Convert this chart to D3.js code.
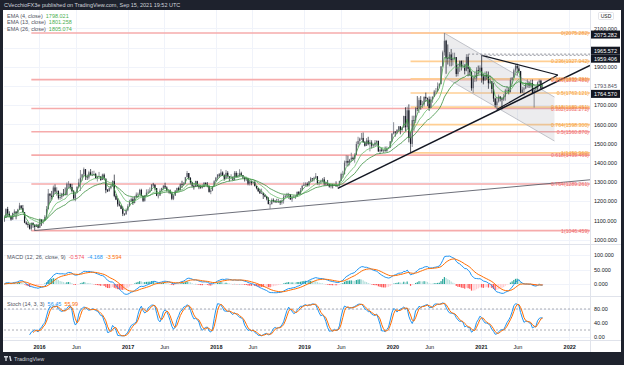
<!DOCTYPE html>
<html>
<head>
<meta charset="utf-8">
<script src="https://cdn.jsdelivr.net/npm/d3@7"></script>
<style>
  body { margin: 0; background: #1e222d; }
  svg { display: block; font-family: "Liberation Sans", Arial, sans-serif; }
</style>
</head>
<body>
<svg id="chart" width="624" height="365"></svg>
<script>
// weekly XAU/USD bars, one per week starting Monday 2015-08-10 (open = previous close)
var firstWeek = '2015-08-10';
var firstOpen = 1094;
var closes = [
  1113,1159,1134,1121,1104,1138,1146,1137,1156,1177,1163,1142,1088,1081,1076,1056,1087,1075,1065,1076,1061,
  1104,1090,1097,1118,1158,1239,1228,1222,1271,1250,1254,1216,1221,1239,1235,1231,1290,1290,1273,1252,1214,1242,1275,1297,1322,1339,1366,1327,1323,1350,1336,1336,1341,1320,1326,1328,1310,1338,1316,1257,1251,1267,1277,1304,1227,1208,1183,1177,1160,1134,1132,1152,
  1173,1197,1210,1190,1220,1234,1238,1258,1227,1202,1229,1244,1249,1254,1286,1284,1268,1228,1228,1254,1268,1280,1271,1254,1256,1241,1212,1228,1254,1268,1258,1289,1285,1291,1324,1346,1320,1297,1280,1274,1304,1280,1272,1270,1274,1295,1287,1280,1248,1255,1278,1303,
  1322,1338,1333,1349,1333,1316,1347,1330,1322,1323,1312,1347,1325,1332,1345,1335,1323,1314,1319,1291,1302,1294,1298,1279,1268,1252,1241,1241,1231,1223,1214,1184,1184,1206,1200,1196,1194,1199,1192,1203,1222,1228,1233,1233,1209,1222,1222,1222,1248,1238,1256,1279,1286,
  1290,1282,1303,1318,1315,1322,1329,1294,1298,1302,1313,1292,1291,1290,1276,1286,1280,1286,1277,1283,1305,1341,1341,1400,1409,1400,1416,1426,1419,1440,1497,1513,1526,1529,1506,1488,1516,1497,1505,1489,1490,1505,1514,1459,1468,1462,1464,1460,1476,1478,1511,1552,
  1562,1557,1571,1589,1570,1584,1643,1585,1673,1530,1498,1622,1620,1684,1683,1726,1700,1703,1743,1735,1730,1685,1730,1744,1771,1774,1798,1810,1902,1975,2035,1944,1940,1964,1934,1940,1950,1862,1900,1930,1899,1902,1879,1951,1889,1871,1788,1839,1839,1882,1878,1895,
  1850,1828,1856,1848,1814,1824,1784,1734,1700,1719,1745,1733,1729,1744,1777,1777,1768,1831,1843,1881,1904,1891,1877,1764,1781,1787,1808,1812,1802,1814,1763,1780,1781,1818,1827,1787,1794
];
var highs = [
  1126,1162,1170,1147,1126,1140,1157,1145,1160,1191,1178,1180,1142,1095,1090,1080,1088,1088,1080,1081,1082,
  1110,1100,1103,1127,1174,1263,1240,1253,1281,1287,1272,1254,1244,1243,1263,1271,1297,1304,1286,1290,1258,1245,1276,1316,1362,1342,1375,1367,1338,1358,1367,1357,1358,1347,1331,1352,1330,1343,1344,1319,1263,1272,1284,1308,1338,1236,1216,1199,1180,1172,1136,1162,
  1184,1207,1219,1220,1227,1245,1245,1264,1264,1228,1232,1261,1262,1271,1289,1295,1289,1266,1236,1265,1270,1283,1296,1277,1260,1261,1242,1234,1258,1270,1275,1293,1306,1299,1326,1357,1340,1325,1300,1283,1306,1306,1284,1284,1287,1299,1298,1299,1280,1261,1279,1309,
  1326,1340,1345,1366,1355,1339,1362,1356,1326,1340,1329,1356,1356,1347,1366,1353,1336,1327,1326,1320,1308,1308,1302,1309,1279,1269,1264,1265,1245,1235,1226,1221,1196,1214,1214,1206,1212,1212,1205,1207,1233,1233,1243,1243,1237,1226,1230,1230,1250,1252,1268,1284,1298,
  1298,1298,1305,1326,1320,1327,1346,1330,1299,1311,1320,1325,1301,1310,1290,1289,1290,1289,1303,1287,1306,1348,1358,1411,1439,1437,1420,1452,1433,1449,1510,1535,1531,1555,1557,1513,1528,1535,1519,1517,1499,1518,1516,1514,1474,1478,1466,1484,1485,1481,1513,1553,
  1611,1563,1575,1591,1591,1585,1645,1689,1692,1704,1560,1645,1645,1690,1747,1739,1747,1722,1745,1765,1739,1745,1744,1745,1779,1789,1818,1815,1902,1984,2075,2040,2016,1976,1992,1973,1973,1912,1917,1933,1933,1933,1913,1965,1965,1898,1876,1848,1875,1897,1906,1907,
  1959,1864,1875,1876,1875,1855,1822,1816,1739,1740,1755,1745,1741,1758,1785,1798,1790,1843,1846,1890,1913,1916,1903,1878,1795,1795,1818,1834,1824,1832,1833,1783,1795,1823,1834,1832,1809
];
var lows = [
  1091,1113,1118,1116,1098,1103,1121,1105,1131,1154,1158,1141,1085,1075,1062,1052,1046,1061,1046,1065,1058,
  1062,1071,1080,1096,1110,1157,1190,1208,1224,1238,1228,1208,1207,1211,1225,1231,1236,1266,1261,1244,1208,1199,1241,1269,1253,1306,1331,1310,1310,1313,1333,1330,1332,1318,1302,1322,1306,1310,1310,1241,1247,1250,1261,1275,1220,1205,1171,1172,1158,1122,1124,1128,
  1147,1173,1196,1180,1188,1216,1216,1232,1225,1195,1197,1226,1238,1243,1254,1275,1255,1226,1214,1228,1247,1258,1266,1250,1240,1236,1205,1205,1230,1246,1253,1255,1268,1281,1290,1325,1311,1287,1272,1260,1275,1276,1262,1264,1265,1272,1281,1272,1244,1236,1252,1276,
  1302,1308,1322,1329,1331,1307,1316,1322,1303,1313,1307,1307,1322,1323,1325,1331,1316,1302,1304,1282,1281,1282,1289,1276,1261,1247,1237,1237,1211,1220,1204,1185,1160,1183,1193,1190,1194,1190,1180,1182,1187,1217,1222,1211,1206,1196,1215,1211,1228,1233,1236,1256,1279,
  1278,1276,1276,1300,1302,1302,1320,1286,1281,1290,1300,1280,1281,1281,1270,1266,1266,1279,1275,1273,1275,1305,1322,1338,1382,1381,1386,1403,1412,1400,1440,1480,1492,1518,1506,1484,1491,1491,1459,1474,1478,1484,1488,1456,1445,1456,1451,1458,1457,1471,1476,1507,
  1547,1536,1549,1560,1548,1562,1581,1563,1576,1506,1451,1482,1566,1606,1669,1659,1676,1685,1693,1716,1694,1670,1703,1712,1742,1757,1767,1792,1807,1898,1958,1863,1911,1902,1902,1906,1937,1848,1850,1873,1880,1892,1860,1876,1850,1853,1775,1764,1820,1823,1859,1863,
  1817,1808,1828,1832,1785,1809,1761,1717,1687,1677,1713,1719,1677,1721,1723,1763,1756,1766,1808,1843,1869,1855,1866,1761,1767,1750,1783,1791,1789,1791,1757,1687,1772,1776,1805,1782,1785
];

// time axis
var timeTicks = ['2016-01-01','2016-06-01','2017-01-01','2017-06-01','2018-01-01','2018-06-01','2019-01-01',
  '2019-06-01','2020-01-01','2020-06-01','2021-01-01','2021-06-01','2022-01-01'];
var priceTicks = [1000,1100,1200,1300,1400,1500,1600,1700,1900,2100];
var macdTicks = [0,50,100];
var stochTicks = [0,40,80];

// fibonacci retracements (the red 0 level shares its label with the orange one)
var fibRatios = [0,0.236,0.382,0.5,0.618,0.764,1];
var fibRedFrom = '2015-11-30', fibRedHigh = 2075.282, fibRedLow = 1046.459;
var fibOrgFrom = '2020-03-16', fibOrgHigh = 2075.282, fibOrgLow = 1450.96;

// drawings
var supportLong = [['2015-12-14',1046.5],['2019-11-11',1211]];
var supportUp = [['2019-05-20',1266],['2020-03-16',1451]];
var triUpper = [['2021-01-04',1959.4],['2021-11-15',1857]];
var triLower = [['2021-03-08',1677],['2021-11-15',1857]];
var channelDates = ['2020-08-03','2021-11-01'];
var channelTop = [2075,1742];
var channelBottom = [1846,1513];
var dashFrom = ['2020-11-09','2021-01-04'];
var dashPrice = [1965.572,1959.406];

// axis price labels
var boxPrices = [2075.282,1965.572,1959.406,1793.845,1764.570];
var boxDark = [true,true,true,false,true];

// legend texts
var emaLengths = [4,13,26];
var emaLegend = ['1798.021','1801.258','1805.074'];
var emaColors = ['#43a047','#66bb6a','#388e3c'];
var macdLegend = ['-0.574','-4.168','-3.594'];
var stochLegend = ['56.45','55.99'];

var W = 624, H = 365;
var plotL = 4, plotR = 590;
var mainTop = 10, mainBot = 244, macdTop = 245, macdBot = 296, stoTop = 297, stoBot = 340, axisBot = 352;

var parse = d3.utcParse('%Y-%m-%d');
var svg = d3.select('#chart');

var x = d3.scaleUtc().domain([parse('2015-08-09'), parse('2022-03-28')]).range([plotL, plotR]);
var y = d3.scaleLinear().domain([1000, 2100]).range([239.5, 28.3]);
var yM = d3.scaleLinear().domain([0, 100]).range([284, 255]);
var yS = d3.scaleLinear().domain([0, 80]).range([337, 309]);

// ---- indicators
function ema( _arr, _n ) {
	var k = 2 / ( _n + 1 ), out = [], prev = null;
	_arr.forEach( function( _v, _i ) {
		prev = _i === 0 ? _v : _v * k + prev * ( 1 - k );
		out.push( prev );
	} );
	return out;
}
function sma( _arr, _n ) {
	return _arr.map( function( _v, _i ) {
		if ( _i < _n - 1 ) return null;
		var s = 0;
		for ( var j = _i - _n + 1; j <= _i; j++ ) {
			if ( _arr[ j ] == null ) return null;
			s += _arr[ j ];
		}
		return s / _n;
	} );
}

var t0 = parse( firstWeek );
var bars = closes.map( function( _c, _i ) {
	return { t: d3.utcDay.offset( t0, 7 * _i ), o: _i ? closes[ _i - 1 ] : firstOpen, h: highs[ _i ], l: lows[ _i ], c: _c };
} );

var emas = emaLengths.map( function( _n ) { return ema( closes, _n ); } );
var e12 = ema( closes, 12 ), e26 = ema( closes, 26 );
var macd = e12.map( function( _v, _i ) { return _v - e26[ _i ]; } );
var signal = ema( macd, 9 );
var hist = macd.map( function( _v, _i ) { return _v - signal[ _i ]; } );

var rawK = closes.map( function( _c, _i ) {
	if ( _i < 13 ) return null;
	var hh = d3.max( highs.slice( _i - 13, _i + 1 ) ), ll = d3.min( lows.slice( _i - 13, _i + 1 ) );
	return 100 * ( _c - ll ) / ( hh - ll );
} );
var stK = sma( rawK, 3 );
var stD = sma( stK, 3 );

// ---- frame
svg.append( 'rect' ).attr( 'width', W ).attr( 'height', H ).attr( 'fill', '#1e222d' );
svg.append( 'rect' ).attr( 'x', 3 ).attr( 'y', 10 ).attr( 'width', 618 ).attr( 'height', axisBot - 10 ).attr( 'fill', '#ffffff' );

var defs = svg.append( 'defs' );
function clip( _id, _y0, _y1 ) {
	defs.append( 'clipPath' ).attr( 'id', _id ).append( 'rect' )
		.attr( 'x', plotL ).attr( 'y', _y0 ).attr( 'width', plotR - plotL ).attr( 'height', _y1 - _y0 );
}
clip( 'cMain', mainTop, mainBot );
clip( 'cMacd', macdTop, macdBot );
clip( 'cSto', stoTop, stoBot );

// grid
var grid = svg.append( 'g' ).attr( 'stroke', '#f0f3fa' ).attr( 'stroke-width', 1 );
timeTicks.forEach( function( _d ) {
	var xx = Math.round( x( parse( _d ) ) ) + 0.5;
	grid.append( 'line' ).attr( 'x1', xx ).attr( 'x2', xx ).attr( 'y1', mainTop ).attr( 'y2', stoBot );
} );
priceTicks.concat( [ 1800, 2000 ] ).forEach( function( _p ) {
	var yy = Math.round( y( _p ) ) + 0.5;
	grid.append( 'line' ).attr( 'x1', plotL ).attr( 'x2', plotR ).attr( 'y1', yy ).attr( 'y2', yy );
} );
macdTicks.forEach( function( _v ) {
	var yy = Math.round( yM( _v ) ) + 0.5;
	grid.append( 'line' ).attr( 'x1', plotL ).attr( 'x2', plotR ).attr( 'y1', yy ).attr( 'y2', yy );
} );
stochTicks.forEach( function( _v ) {
	var yy = Math.round( yS( _v ) ) + 0.5;
	grid.append( 'line' ).attr( 'x1', plotL ).attr( 'x2', plotR ).attr( 'y1', yy ).attr( 'y2', yy );
} );

// ---- main panel
var main = svg.append( 'g' ).attr( 'clip-path', 'url(#cMain)' );

// fib lines
function fibLines( _from, _hi, _lo, _color ) {
	fibRatios.forEach( function( _r ) {
		var p = _hi - _r * ( _hi - _lo );
		main.append( 'line' )
			.attr( 'x1', x( parse( _from ) ) ).attr( 'x2', plotR )
			.attr( 'y1', y( p ) ).attr( 'y2', y( p ) )
			.attr( 'stroke', _color ).attr( 'stroke-width', 1.6 );
	} );
}
fibLines( fibRedFrom, fibRedHigh, fibRedLow, '#f6abab' );
fibLines( fibOrgFrom, fibOrgHigh, fibOrgLow, '#ffcf94' );

// descending channel
var chPts = [
	[ x( parse( channelDates[ 0 ] ) ), y( channelTop[ 0 ] ) ],
	[ x( parse( channelDates[ 1 ] ) ), y( channelTop[ 1 ] ) ],
	[ x( parse( channelDates[ 1 ] ) ), y( channelBottom[ 1 ] ) ],
	[ x( parse( channelDates[ 0 ] ) ), y( channelBottom[ 0 ] ) ]
];
main.append( 'path' ).attr( 'd', d3.line()( chPts ) + 'Z' )
	.attr( 'fill', 'rgba(149,152,161,0.18)' ).attr( 'stroke', 'none' );
[ [ chPts[ 0 ], chPts[ 1 ] ], [ chPts[ 3 ], chPts[ 2 ] ] ].forEach( function( _seg ) {
	main.append( 'line' ).attr( 'x1', _seg[ 0 ][ 0 ] ).attr( 'y1', _seg[ 0 ][ 1 ] )
		.attr( 'x2', _seg[ 1 ][ 0 ] ).attr( 'y2', _seg[ 1 ][ 1 ] )
		.attr( 'stroke', '#b2b5be' ).attr( 'stroke-width', 0.8 );
} );

// candles
var candles = main.append( 'g' );
bars.forEach( function( _b ) {
	var xx = x( _b.t );
	var up = _b.c >= _b.o;
	var col = up ? '#5d606b' : '#131722';
	var hi = Math.max( _b.h, _b.o, _b.c ), lo = Math.min( _b.l, _b.o, _b.c );
	candles.append( 'line' ).attr( 'x1', xx ).attr( 'x2', xx ).attr( 'y1', y( hi ) ).attr( 'y2', y( lo ) )
		.attr( 'stroke', col ).attr( 'stroke-width', 0.7 );
	var top = y( Math.max( _b.o, _b.c ) ), bot = y( Math.min( _b.o, _b.c ) );
	candles.append( 'rect' ).attr( 'x', xx - 0.6 ).attr( 'width', 1.2 )
		.attr( 'y', top ).attr( 'height', Math.max( 0.6, bot - top ) ).attr( 'fill', col );
} );

// EMAs
emas.forEach( function( _e, _k ) {
	main.append( 'path' )
		.attr( 'd', d3.line().x( function( _v, _i ) { return x( bars[ _i ].t ); } ).y( function( _v ) { return y( _v ); } )( _e ) )
		.attr( 'fill', 'none' ).attr( 'stroke', emaColors[ _k ] ).attr( 'stroke-width', 0.8 );
} );

// trend lines
function seg( _a, _b, _w, _col, _extend ) {
	var x1 = x( parse( _a[ 0 ] ) ), y1 = y( _a[ 1 ] ), x2 = x( parse( _b[ 0 ] ) ), y2 = y( _b[ 1 ] );
	if ( _extend ) {
		y2 = y1 + ( y2 - y1 ) * ( plotR - x1 ) / ( x2 - x1 );
		x2 = plotR;
	}
	main.append( 'line' ).attr( 'x1', x1 ).attr( 'y1', y1 ).attr( 'x2', x2 ).attr( 'y2', y2 )
		.attr( 'stroke', _col ).attr( 'stroke-width', _w );
}
seg( supportLong[ 0 ], supportLong[ 1 ], 0.9, '#5d606b', true );
seg( supportUp[ 0 ], supportUp[ 1 ], 1.4, '#131722', true );
seg( triUpper[ 0 ], triUpper[ 1 ], 1.2, '#131722', false );
seg( triLower[ 0 ], triLower[ 1 ], 1.2, '#131722', false );

dashFrom.forEach( function( _d, _i ) {
	main.append( 'line' ).attr( 'x1', x( parse( _d ) ) ).attr( 'x2', plotR )
		.attr( 'y1', y( dashPrice[ _i ] ) ).attr( 'y2', y( dashPrice[ _i ] ) )
		.attr( 'stroke', '#787b86' ).attr( 'stroke-width', 0.8 ).attr( 'stroke-dasharray', '2,2' );
} );

// fib labels, right-aligned on their line
function fibLabels( _hi, _lo, _color, _skipZero ) {
	fibRatios.forEach( function( _r ) {
		if ( _skipZero && _r === 0 ) return;
		var p = _hi - _r * ( _hi - _lo );
		svg.append( 'text' ).attr( 'x', plotR - 1 ).attr( 'y', y( p ) + 2 )
			.attr( 'text-anchor', 'end' ).attr( 'font-size', 5.2 ).attr( 'fill', _color )
			.text( _r + '(' + p.toFixed( 3 ) + ')' );
	} );
}
fibLabels( fibRedHigh, fibRedLow, '#ef6b6b', true );
fibLabels( fibOrgHigh, fibOrgLow, '#f5a03a', false );

// ---- MACD panel
var mg = svg.append( 'g' ).attr( 'clip-path', 'url(#cMacd)' );
hist.forEach( function( _h, _i ) {
	var prev = _i ? hist[ _i - 1 ] : 0;
	var col = _h >= 0 ? ( _h > prev ? '#26a69a' : '#b2dfdb' ) : ( _h < prev ? '#ff5252' : '#ffcdd2' );
	var y0 = yM( 0 ), y1 = yM( _h );
	mg.append( 'rect' ).attr( 'x', x( bars[ _i ].t ) - 0.6 ).attr( 'width', 1.2 )
		.attr( 'y', Math.min( y0, y1 ) ).attr( 'height', Math.max( 0.3, Math.abs( y1 - y0 ) ) ).attr( 'fill', col );
} );
var lineM = d3.line().x( function( _v, _i ) { return x( bars[ _i ].t ); } ).y( function( _v ) { return yM( _v ); } );
mg.append( 'path' ).attr( 'd', lineM( macd ) ).attr( 'fill', 'none' ).attr( 'stroke', '#2196f3' ).attr( 'stroke-width', 1 );
mg.append( 'path' ).attr( 'd', lineM( signal ) ).attr( 'fill', 'none' ).attr( 'stroke', '#ff6d00' ).attr( 'stroke-width', 1 );

// ---- Stochastic panel
var sg = svg.append( 'g' ).attr( 'clip-path', 'url(#cSto)' );
[ 80, 20 ].forEach( function( _v ) {
	sg.append( 'line' ).attr( 'x1', plotL ).attr( 'x2', plotR ).attr( 'y1', yS( _v ) ).attr( 'y2', yS( _v ) )
		.attr( 'stroke', '#9598a1' ).attr( 'stroke-width', 0.8 ).attr( 'stroke-dasharray', '2,2' );
} );
var lineS = d3.line().defined( function( _v ) { return _v != null; } )
	.x( function( _v, _i ) { return x( bars[ _i ].t ); } ).y( function( _v ) { return yS( _v ); } );
sg.append( 'path' ).attr( 'd', lineS( stK ) ).attr( 'fill', 'none' ).attr( 'stroke', '#2196f3' ).attr( 'stroke-width', 1 );
sg.append( 'path' ).attr( 'd', lineS( stD ) ).attr( 'fill', 'none' ).attr( 'stroke', '#ff6d00' ).attr( 'stroke-width', 1 );

// ---- separators
var sep = svg.append( 'g' ).attr( 'stroke', '#e0e3eb' ).attr( 'stroke-width', 1 );
[ 244.5, 296.5, 340.5 ].forEach( function( _y ) {
	sep.append( 'line' ).attr( 'x1', 3 ).attr( 'x2', 621 ).attr( 'y1', _y ).attr( 'y2', _y );
} );
sep.append( 'line' ).attr( 'x1', plotR + 0.5 ).attr( 'x2', plotR + 0.5 ).attr( 'y1', 10 ).attr( 'y2', axisBot );

// ---- axes
function styleAxis( _g ) {
	_g.select( '.domain' ).remove();
	_g.selectAll( 'text' ).attr( 'font-size', 5.5 ).attr( 'fill', '#131722' ).attr( 'font-family', '"Liberation Sans", Arial, sans-serif' );
}
svg.append( 'g' ).attr( 'transform', 'translate(' + plotR + ',0)' )
	.call( d3.axisRight( y ).tickValues( priceTicks ).tickFormat( d3.format( '.3f' ) ).tickSize( 0 ).tickPadding( 4 ) )
	.call( styleAxis );
svg.append( 'g' ).attr( 'transform', 'translate(' + plotR + ',0)' )
	.call( d3.axisRight( yM ).tickValues( macdTicks ).tickFormat( d3.format( '.3f' ) ).tickSize( 0 ).tickPadding( 4 ) )
	.call( styleAxis );
svg.append( 'g' ).attr( 'transform', 'translate(' + plotR + ',0)' )
	.call( d3.axisRight( yS ).tickValues( stochTicks ).tickFormat( d3.format( '.2f' ) ).tickSize( 0 ).tickPadding( 4 ) )
	.call( styleAxis );
svg.append( 'g' ).attr( 'transform', 'translate(0,' + ( stoBot + 1 ) + ')' )
	.call( d3.axisBottom( x ).tickValues( timeTicks.map( parse ) ).tickSize( 0 ).tickPadding( 4 )
		.tickFormat( function( _d ) { return _d.getUTCMonth() === 0 ? _d.getUTCFullYear() : 'Jun'; } ) )
	.call( styleAxis )
	.selectAll( 'text' ).attr( 'font-weight', function( _d ) { return _d.getUTCMonth() === 0 ? 'bold' : 'normal'; } );

// USD tag
svg.append( 'rect' ).attr( 'x', 598.5 ).attr( 'y', 12.5 ).attr( 'width', 15 ).attr( 'height', 7 ).attr( 'rx', 1 )
	.attr( 'fill', '#fff' ).attr( 'stroke', '#d1d4dc' ).attr( 'stroke-width', 0.6 );
svg.append( 'text' ).attr( 'x', 606 ).attr( 'y', 18 ).attr( 'text-anchor', 'middle' ).attr( 'font-size', 5 ).attr( 'fill', '#131722' ).text( 'USD' );

// boxed price labels, pushed apart where they overlap
var lab = boxPrices.map( function( _p, _i ) { return { p: _p, y: y( _p ), dark: boxDark[ _i ] }; } );
lab[ 0 ].y += 1.5;
for ( var it = 0; it < 6; it++ ) {
	for ( var i = 1; i < lab.length; i++ ) {
		var gap = lab[ i ].y - lab[ i - 1 ].y;
		if ( gap < 8 ) {
			lab[ i - 1 ].y -= ( 8 - gap ) / 2;
			lab[ i ].y += ( 8 - gap ) / 2;
		}
	}
}
lab.forEach( function( _l ) {
	svg.append( 'rect' ).attr( 'x', plotR + 1 ).attr( 'y', _l.y - 4 ).attr( 'width', 29 ).attr( 'height', 8 )
		.attr( 'fill', _l.dark ? '#131722' : '#ffffff' );
	svg.append( 'text' ).attr( 'x', plotR + 4 ).attr( 'y', _l.y + 2 ).attr( 'font-size', 5.5 )
		.attr( 'fill', _l.dark ? '#ffffff' : '#50535e' ).text( _l.p.toFixed( 3 ) );
} );

// ---- legends
function legendRow( _y, _parts ) {
	var t = svg.append( 'text' ).attr( 'x', 7 ).attr( 'y', _y ).attr( 'font-size', 5.5 );
	_parts.forEach( function( _p, _i ) {
		t.append( 'tspan' ).attr( 'dx', _i ? 3 : 0 ).attr( 'fill', _p[ 1 ] ).text( _p[ 0 ] );
	} );
}
emaLengths.forEach( function( _n, _i ) {
	legendRow( 17.5 + _i * 6.5, [ [ 'EMA (' + _n + ', close)', '#50535e' ], [ emaLegend[ _i ], '#4caf50' ] ] );
} );
legendRow( 258.5, [ [ 'MACD (12, 26, close, 9)', '#50535e' ], [ macdLegend[ 0 ], '#f7525f' ], [ macdLegend[ 1 ], '#2196f3' ], [ macdLegend[ 2 ], '#ff6d00' ] ] );
legendRow( 306, [ [ 'Stoch (14, 3, 3)', '#50535e' ], [ stochLegend[ 0 ], '#2196f3' ], [ stochLegend[ 1 ], '#ff6d00' ] ] );

// header and footer
svg.append( 'text' ).attr( 'x', 4 ).attr( 'y', 7 ).attr( 'font-size', 5.5 ).attr( 'fill', '#d1d4dc' )
	.text( 'CVecchioFX3e published on TradingView.com, Sep 15, 2021 19:52 UTC' );
svg.append( 'path' ).attr( 'd', 'M4,356h4v1.5h-1.3v3.5h-1.4v-3.5h-1.3z M9,356h1.5l1.2,5h-1.5z' ).attr( 'fill', '#d1d4dc' );
svg.append( 'text' ).attr( 'x', 14 ).attr( 'y', 361 ).attr( 'font-size', 5.5 ).attr( 'fill', '#d1d4dc' ).text( 'TradingView' );
</script>
</body>
</html>
